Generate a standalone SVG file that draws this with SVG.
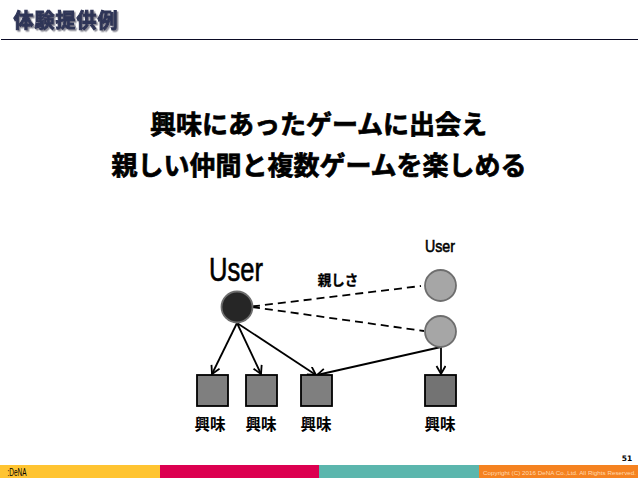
<svg xmlns="http://www.w3.org/2000/svg" width="638" height="479" viewBox="0 0 638 479">
<style>
text{font-family:"Noto Sans CJK JP","Liberation Sans",sans-serif;font-weight:700;fill:#000;text-anchor:middle}
.head{font-size:26px;stroke:#000;stroke-width:.7px}
.int{font-size:15.500px}
.user{font-family:"Liberation Sans","Noto Sans CJK JP",sans-serif;font-weight:400;stroke:#000;stroke-width:.6px}
.box{fill:#7f7f7f;stroke:#000;stroke-width:1.800}
.peer{fill:#a6a6a6;stroke:#6e6e6e;stroke-width:1.800}
.arrow{fill:none;stroke:#000;stroke-width:1.800;marker-end:url(#a)}
.dash{fill:none;stroke:#000;stroke-width:1.800;stroke-dasharray:8 5}
</style>
<defs>
<marker id="a" markerUnits="userSpaceOnUse" markerWidth="12" markerHeight="12" refX="9" refY="5" orient="auto"><path d="M1 0.5L9 5L1 9.5" fill="none" stroke="#000" stroke-width="1.800"/></marker>
<filter id="s" x="-10%" y="-20%" width="120%" height="150%"><feDropShadow dx="1.500" dy="1.500" stdDeviation=".7" flood-color="#8a8a96"/></filter>
</defs>
<rect width="638" height="479" fill="#fff"/>
<g id="title">
<text x="66" y="28" font-size="20" style="fill:#2f3558;letter-spacing:1px" stroke="#2f3558" stroke-width="1" filter="url(#s)">体験提供例</text>
</g>
<path d="M1 39.500H638" stroke="#0b0b25" stroke-width="1.200"/>
<g id="headline">
<text class="head" x="318.500" y="134">興味にあったゲームに出会え</text>
<text class="head" x="319" y="175">親しい仲間と複数ゲームを楽しめる</text>
</g>
<g id="connectors">
<path class="dash" d="M252 306.500L421 286"/>
<path class="dash" d="M252 307L424 331"/>
<path class="arrow" d="M237 323L212 374"/>
<path class="arrow" d="M237 323L261 374"/>
<path class="arrow" d="M237 323L316 375"/>
<path class="arrow" d="M441 347L317 375"/>
<path class="arrow" d="M441 347L441 374"/>
</g>
<g id="user-main"><circle cx="237" cy="307" r="15.500" fill="#262626" stroke="#6e6e6e" stroke-width="1.800"/><text class="user" x="236" y="281" font-size="33" textLength="54" lengthAdjust="spacingAndGlyphs">User</text></g>
<g id="user-peer-1"><circle class="peer" cx="440.500" cy="285.500" r="15.500"/><text class="user" x="440" y="252" font-size="17" textLength="30" lengthAdjust="spacingAndGlyphs">User</text></g>
<g id="user-peer-2"><circle class="peer" cx="440.500" cy="331.500" r="15.500"/></g>
<g id="closeness"><text x="338" y="284.500" font-size="13.500" stroke="#000" stroke-width=".3">親しさ</text></g>
<g id="interest-1"><rect class="box" x="197" y="375" width="31" height="31"/><text class="int" x="210" y="429.500">興味</text></g>
<g id="interest-2"><rect class="box" x="246" y="375" width="31" height="31"/><text class="int" x="261" y="429.500">興味</text></g>
<g id="interest-3"><rect class="box" x="301" y="375" width="31" height="31"/><text class="int" x="316" y="429.500">興味</text></g>
<g id="interest-4"><rect class="box" x="425" y="375" width="31" height="31" style="fill:#737373"/><text class="int" x="440" y="429.500">興味</text></g>
<g id="page-number"><text x="627" y="461" font-size="7.500" style="font-family:'DejaVu Sans',sans-serif">51</text></g>
<g id="footer">
<rect x="0" y="465" width="160" height="13" fill="#ffc431"/>
<rect x="160" y="465" width="159" height="13" fill="#dc0050"/>
<rect x="319" y="465" width="160" height="13" fill="#5bb6ad"/>
<rect x="479" y="465" width="159" height="13" fill="#f58220"/>
<text x="17" y="476" font-size="10" textLength="19" lengthAdjust="spacingAndGlyphs" style="font-family:'Liberation Sans',sans-serif;font-weight:400">:DeNA</text>
<text x="559.500" y="474.500" font-size="6" textLength="153" lengthAdjust="spacingAndGlyphs" style="font-family:'Liberation Sans',sans-serif;font-weight:400;fill:#ffd9b0">Copyright (C) 2016 DeNA Co.,Ltd. All Rights Reserved.</text>
</g>
</svg>
